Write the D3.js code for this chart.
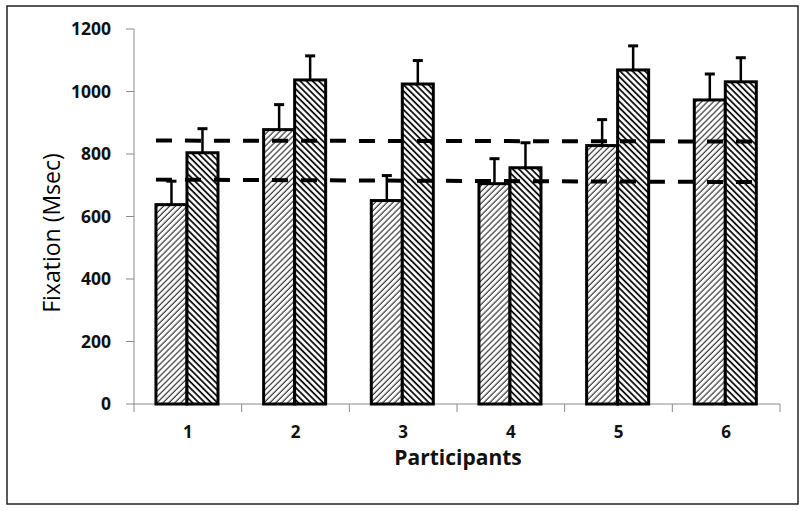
<!DOCTYPE html>
<html><head><meta charset="utf-8">
<script src="https://cdn.jsdelivr.net/npm/d3@7"></script>
<style>body{margin:0;background:#fff}svg{display:block}</style>
</head><body>
<svg id="c" width="800" height="511"></svg>
<script>
const participants = ["1","2","3","4","5","6"];
const seriesA = [638, 878, 651, 705, 827, 973];   // light hatch ////
const errorA  = [75, 80, 80, 80, 83, 83];
const seriesB = [804, 1037, 1024, 756, 1069, 1031]; // dark hatch \\\\
const errorB  = [77, 77, 75, 80, 77, 77];
const refLines = [[843, 840], [718, 710]];
const yTicks = [0, 200, 400, 600, 800, 1000, 1200];

const svg = d3.select("#c");
const L = 134, R = 780, T = 29, B = 404;

const defs = svg.append("defs");
defs.append("pattern").attr("id","hA").attr("patternUnits","userSpaceOnUse")
  .attr("width",4.2).attr("height",4.2).attr("patternTransform","rotate(45)")
  .append("line").attr("x1",1).attr("y1",0).attr("x2",1).attr("y2",4.2)
  .attr("stroke","#000").attr("stroke-width",0.95);
defs.append("pattern").attr("id","hB").attr("patternUnits","userSpaceOnUse")
  .attr("width",4.4).attr("height",4.4).attr("patternTransform","rotate(-45)")
  .append("line").attr("x1",1).attr("y1",0).attr("x2",1).attr("y2",4.4)
  .attr("stroke","#000").attr("stroke-width",1.7);

// frame
svg.append("rect").attr("x",7).attr("y",6).attr("width",791).attr("height",498)
  .attr("fill","none").attr("stroke","#222").attr("stroke-width",1.5);

const x0 = d3.scaleBand().domain(participants).range([L, R]).padding(0);
const bw = x0.bandwidth();
const x1 = d3.scaleBand().domain(["A","B"]).range([bw*0.204, bw*0.78]).padding(0);
const y = d3.scaleLinear().domain([0, 1200]).range([B, T]);

// axes
const axisColor = "#8a8a8a";
svg.append("line").attr("x1",L).attr("x2",L).attr("y1",y(1200)).attr("y2",B)
  .attr("stroke",axisColor).attr("stroke-width",1);
svg.append("line").attr("x1",L).attr("x2",R).attr("y1",B).attr("y2",B)
  .attr("stroke",axisColor).attr("stroke-width",1);
svg.selectAll(".yt").data(yTicks).enter().append("line")
  .attr("x1",L-8).attr("x2",L).attr("y1",d=>y(d)).attr("y2",d=>y(d))
  .attr("stroke",axisColor);
const bounds = participants.map(p=>x0(p)).concat([R]);
svg.selectAll(".xt").data(bounds).enter().append("line")
  .attr("x1",d=>d).attr("x2",d=>d).attr("y1",B).attr("y2",B+8)
  .attr("stroke",axisColor);

const font = "'Open Sans', sans-serif";
svg.selectAll(".yl").data(yTicks).enter().append("text")
  .attr("x",111).attr("y",d=>y(d)).attr("dy","0.35em").attr("text-anchor","end")
  .attr("font-family",font).attr("font-weight","bold").attr("font-size",17.5)
  .attr("fill","#111").text(d=>d);
svg.selectAll(".xl").data(participants).enter().append("text")
  .attr("x",d=>x0(d)+bw/2).attr("y",432).attr("dy","0.35em").attr("text-anchor","middle")
  .attr("font-family",font).attr("font-weight","bold").attr("font-size",17)
  .attr("fill","#111").text(d=>d);
svg.append("text").attr("x",(L+R)/2 + 1).attr("y",458).attr("dy","0.35em")
  .attr("text-anchor","middle").attr("font-family",font).attr("font-weight","bold")
  .attr("font-size",21).attr("fill","#111").text("Participants");
svg.append("text").attr("transform","translate(52,233) rotate(-90)")
  .attr("dy","0.35em").attr("text-anchor","middle").attr("font-family",font)
  .attr("font-size",23).attr("fill","#000").text("Fixation (Msec)");

// bars
const rows = participants.map((p,i)=>({p, a:seriesA[i], ea:errorA[i], b:seriesB[i], eb:errorB[i]}));
const g = svg.append("g");
rows.forEach(r=>{
  [["A",r.a,r.ea,"url(#hA)"],["B",r.b,r.eb,"url(#hB)"]].forEach(([k,v,e,fill])=>{
    const bx = x0(r.p)+x1(k), cx = bx + x1.bandwidth()/2;
    g.append("line").attr("x1",cx).attr("x2",cx).attr("y1",y(v)).attr("y2",y(v+e))
      .attr("stroke","#000").attr("stroke-width",2.5);
    g.append("line").attr("x1",cx-5).attr("x2",cx+5).attr("y1",y(v+e)).attr("y2",y(v+e))
      .attr("stroke","#000").attr("stroke-width",3);
    g.append("rect").attr("x",bx).attr("y",y(v)).attr("width",x1.bandwidth())
      .attr("height",y(0)-y(v)).attr("fill","#fff");
    g.append("rect").attr("x",bx).attr("y",y(v)).attr("width",x1.bandwidth())
      .attr("height",y(0)-y(v)).attr("fill",fill).attr("stroke","#000").attr("stroke-width",3);
  });
});

// reference dashed lines
const xs = x0(participants[0]) + x1("A"), xe = x0(participants[5]) + x1("B") + x1.bandwidth();
refLines.forEach(([v0,v1])=>{
  svg.append("line").attr("x1",xs).attr("x2",xe).attr("y1",y(v0)).attr("y2",y(v1))
    .attr("stroke","#000").attr("stroke-width",4).attr("stroke-dasharray","16,13");
});
</script>
</body></html>
